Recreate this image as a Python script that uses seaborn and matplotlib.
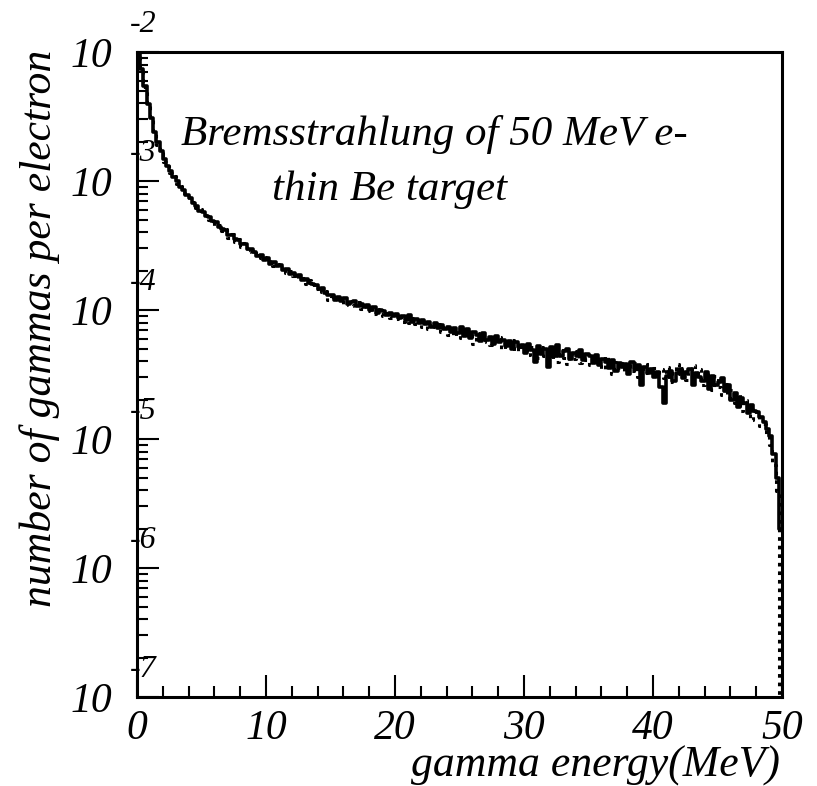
"""Bremsstrahlung spectrum of 50 MeV electrons on a thin Be target (PAW-style log histogram)."""
import numpy as np
import pandas as pd
import matplotlib
matplotlib.use("Agg")
import matplotlib.pyplot as plt
from matplotlib.ticker import LogLocator, MultipleLocator, NullFormatter
import seaborn as sns

# ---- data: 200 bins of 0.25 MeV, log10(gammas per electron)
bin_width = 0.25
bin_centers = np.arange(200) * bin_width + bin_width / 2

solid_log = [
    -1.90, -2.13, -2.26, -2.40, -2.51, -2.62, -2.70, -2.77, -2.83, -2.88,
    -2.92, -2.97, -3.00, -3.05, -3.07, -3.11, -3.13, -3.17, -3.19, -3.23,
    -3.24, -3.27, -3.28, -3.31, -3.32, -3.36, -3.37, -3.38, -3.42, -3.42,
    -3.45, -3.46, -3.49, -3.49, -3.53, -3.53, -3.55, -3.58, -3.57, -3.61,
    -3.60, -3.64, -3.63, -3.66, -3.65, -3.69, -3.68, -3.72, -3.71, -3.74,
    -3.73, -3.77, -3.76, -3.79, -3.80, -3.81, -3.84, -3.83, -3.87, -3.88,
    -3.88, -3.92, -3.90, -3.93, -3.91, -3.95, -3.94, -3.93, -3.97, -3.95,
    -3.98, -3.96, -4.00, -3.98, -4.02, -4.00, -4.01, -4.04, -4.02, -4.05,
    -4.03, -4.06, -4.05, -4.08, -4.04, -4.09, -4.07, -4.10, -4.08, -4.11,
    -4.09, -4.13, -4.10, -4.14, -4.12, -4.15, -4.13, -4.17, -4.14, -4.18,
    -4.13, -4.20, -4.15, -4.22, -4.17, -4.19, -4.24, -4.18, -4.23, -4.21,
    -4.26, -4.20, -4.25, -4.23, -4.28, -4.24, -4.30, -4.25, -4.29, -4.27,
    -4.33, -4.26, -4.31, -4.40, -4.28, -4.34, -4.30, -4.44, -4.29, -4.35,
    -4.27, -4.36, -4.32, -4.30, -4.38, -4.33, -4.36, -4.31, -4.39, -4.34,
    -4.36, -4.41, -4.35, -4.43, -4.38, -4.40, -4.45, -4.39, -4.47, -4.41,
    -4.44, -4.42, -4.50, -4.40, -4.46, -4.43, -4.58, -4.44, -4.49, -4.46,
    -4.52, -4.48, -4.60, -4.72, -4.51, -4.47, -4.55, -4.49, -4.46, -4.53,
    -4.48, -4.46, -4.58, -4.49, -4.52, -4.55, -4.48, -4.61, -4.51, -4.58,
    -4.56, -4.53, -4.63, -4.58, -4.70, -4.64, -4.75, -4.68, -4.72, -4.80,
    -4.74, -4.78, -4.79, -4.83, -4.87, -4.92, -4.98, -5.12, -5.30, -5.70,
]

dotted_log = [
    -1.92, -2.15, -2.27, -2.42, -2.53, -2.63, -2.72, -2.78, -2.85, -2.88,
    -2.94, -2.96, -3.02, -3.04, -3.09, -3.10, -3.15, -3.16, -3.21, -3.22,
    -3.26, -3.26, -3.30, -3.30, -3.35, -3.34, -3.39, -3.37, -3.44, -3.41,
    -3.47, -3.45, -3.51, -3.48, -3.55, -3.52, -3.57, -3.56, -3.60, -3.59,
    -3.63, -3.62, -3.66, -3.64, -3.68, -3.67, -3.71, -3.70, -3.74, -3.72,
    -3.76, -3.75, -3.80, -3.77, -3.78, -3.84, -3.82, -3.86, -3.85, -3.92,
    -3.90, -3.89, -3.94, -3.91, -3.96, -3.92, -3.97, -3.96, -3.94, -3.99,
    -3.97, -4.01, -3.98, -4.03, -3.99, -4.03, -4.05, -4.02, -4.06, -4.03,
    -4.07, -4.04, -4.09, -4.05, -4.10, -4.06, -4.11, -4.08, -4.13, -4.09,
    -4.15, -4.10, -4.13, -4.11, -4.17, -4.12, -4.19, -4.14, -4.20, -4.15,
    -4.22, -4.16, -4.21, -4.17, -4.26, -4.20, -4.18, -4.25, -4.21, -4.27,
    -4.22, -4.24, -4.21, -4.30, -4.25, -4.29, -4.23, -4.32, -4.27, -4.31,
    -4.28, -4.35, -4.29, -4.33, -4.37, -4.29, -4.36, -4.32, -4.38, -4.30,
    -4.40, -4.31, -4.37, -4.42, -4.33, -4.38, -4.32, -4.41, -4.35, -4.39,
    -4.43, -4.37, -4.40, -4.38, -4.46, -4.36, -4.42, -4.50, -4.40, -4.45,
    -4.41, -4.48, -4.43, -4.47, -4.41, -4.52, -4.44, -4.49, -4.42, -4.47,
    -4.45, -4.51, -4.46, -4.53, -4.44, -4.56, -4.47, -4.42, -4.50, -4.45,
    -4.54, -4.48, -4.43, -4.52, -4.46, -4.58, -4.50, -4.53, -4.62, -4.51,
    -4.60, -4.66, -4.57, -4.68, -4.62, -4.72, -4.65, -4.78, -4.70, -4.74,
    -4.85, -4.76, -4.82, -4.90, -4.88, -4.96, -5.05, -5.20, -5.40, -9.00,
]

y_major = [1e-7, 1e-6, 1e-5, 1e-4, 1e-3, 1e-2]
y_exponents = ["-7", "-6", "-5", "-4", "-3", "-2"]
x_major = [0, 10, 20, 30, 40, 50]

solid = pd.DataFrame({"energy": bin_centers, "rate": 10.0 ** np.array(solid_log)})
dotted = pd.DataFrame({"energy": bin_centers, "rate": 10.0 ** np.array(dotted_log)})

sns.set_style("ticks")
plt.rcParams["font.family"] = ["Liberation Serif", "DejaVu Serif"]
plt.rcParams["font.style"] = "italic"
for key in ["text.color", "axes.labelcolor", "xtick.color", "ytick.color",
            "xtick.labelcolor", "ytick.labelcolor"]:
    plt.rcParams[key] = "black"

fig = plt.figure(figsize=(8.17, 7.86), dpi=100)
ax = fig.add_axes([137 / 817, 1 - 697 / 786, 645 / 817, 645 / 786])

sns.histplot(data=solid, x="energy", weights="rate", binwidth=bin_width,
             binrange=(0, 50), element="step", fill=False, color="black",
             linewidth=2.6, ax=ax)
sns.histplot(data=dotted, x="energy", weights="rate", binwidth=bin_width,
             binrange=(0, 50), element="step", fill=False, color="black",
             linewidth=2.2, linestyle=(0, (1.2, 1.6)), ax=ax)

ax.set_yscale("log")
ax.set_xlim(0, 50)
ax.set_ylim(1e-7, 1e-2)
ax.set_xlabel("")
ax.set_ylabel("")

for side in ["left", "right", "top", "bottom"]:
    ax.spines[side].set_visible(True)
    ax.spines[side].set_linewidth(2.2)
    ax.spines[side].set_color("black")

ax.set_xticks(x_major, labels=[str(v) for v in x_major])
ax.xaxis.set_minor_locator(MultipleLocator(2))
ax.set_yticks(y_major, labels=["10"] * len(y_major))
ax.yaxis.set_minor_locator(LogLocator(base=10, subs=np.arange(2, 10)))
ax.yaxis.set_minor_formatter(NullFormatter())
ax.tick_params(which="major", direction="in", length=16, width=1.5,
               labelsize=30, color="black", labelcolor="black")
ax.tick_params(which="minor", direction="in", length=8, width=1.5, color="black")
ax.tick_params(axis="x", which="major", pad=9)
ax.tick_params(axis="y", which="major", pad=18)
ax.tick_params(top=False, right=False, which="both")

# PAW-style raised exponents next to each "10"
for val, ex in zip(y_major, y_exponents):
    ax.annotate(ex, xy=(0, val), xycoords=("axes fraction", "data"),
                xytext=(-5, 20), textcoords="offset points",
                ha="left", va="center", fontsize=23, color="black")

ax.text((434 - 137) / 645, 1 - (135 - 52) / 645, "Bremsstrahlung of 50 MeV e-",
        transform=ax.transAxes, ha="center", va="center", fontsize=31)
ax.text((390 - 137) / 645, 1 - (190 - 52) / 645, "thin Be target",
        transform=ax.transAxes, ha="center", va="center", fontsize=31)

fig.text(40 / 817, 1 - 328 / 786, "number of gammas per electron",
         rotation=90, ha="center", va="center", fontsize=31.5)
fig.text(780 / 817, 1 - 777 / 786, "gamma energy(MeV)",
         ha="right", va="baseline", fontsize=31.5)

fig.savefig("out.png", dpi=100, facecolor="white")
